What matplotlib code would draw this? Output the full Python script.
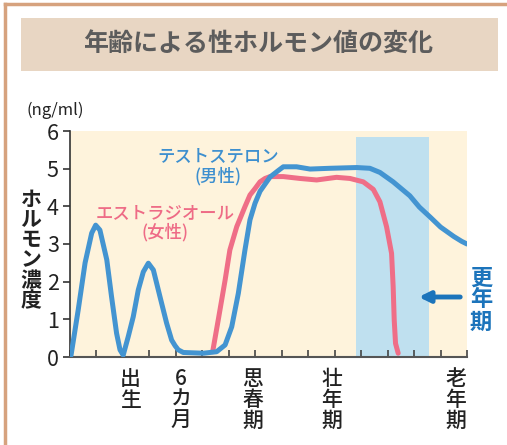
import numpy as np
import matplotlib
matplotlib.use("Agg")
import matplotlib.pyplot as plt
from matplotlib.patches import Rectangle, FancyArrowPatch

plt.rcParams['font.family'] = ['Noto Sans CJK JP', 'DejaVu Sans']

# testosterone (male)
t_x = [0.0, 0.04, 0.31, 0.57, 0.82, 0.97, 1.13, 1.39, 1.57, 1.76, 1.89, 2.01,
       2.2, 2.39, 2.58, 2.77, 2.96, 3.15, 3.4, 3.65, 3.84, 3.97, 4.09, 4.28,
       5.04, 5.54, 5.86, 6.11, 6.36, 6.61, 6.8, 6.99, 7.18, 7.56, 7.87, 8.06,
       8.56, 9.07, 9.82, 10.83, 11.33, 11.71, 12.21, 12.84, 13.2, 13.6, 14.0,
       14.5, 14.8, 15.0]
t_y = [0.0, 0.05, 1.25, 2.5, 3.29, 3.5, 3.37, 2.58, 1.6, 0.63, 0.19, 0.05,
       0.54, 1.07, 1.78, 2.26, 2.49, 2.31, 1.6, 0.9, 0.45, 0.3, 0.19, 0.12,
       0.1, 0.14, 0.32, 0.8, 1.69, 2.84, 3.64, 4.08, 4.4, 4.78, 4.95, 5.05,
       5.05, 4.99, 5.01, 5.03, 5.01, 4.9, 4.65, 4.28, 3.98, 3.72, 3.45,
       3.2, 3.07, 3.0]

# estradiol (female)
e_x = [5.39, 5.6, 5.86, 6.04, 6.3, 6.61, 6.8, 6.99, 7.18, 7.37, 7.56, 8.06,
       8.69, 9.32, 10.07, 10.58, 11.08, 11.46, 11.71, 11.96, 12.15, 12.21,
       12.25, 12.3, 12.4]
e_y = [0.14, 0.98, 2.04, 2.84, 3.46, 3.99, 4.3, 4.47, 4.65, 4.74, 4.79, 4.79,
       4.74, 4.7, 4.77, 4.74, 4.65, 4.45, 4.12, 3.46, 2.75, 1.87, 0.98, 0.36,
       0.1]

stage_pos = [2.27, 4.19, 6.9, 9.9, 14.58]
stage_labels = ["出生", "6カ月", "思春期", "壮年期", "老年期"]
meno_span = (10.8, 13.56, 5.84)

W, H = 507, 445
fig = plt.figure(figsize=(W / 100, H / 100), dpi=100)

# frame and title box
fig.add_artist(plt.Line2D([5 / W, 1], [1 - 4 / H, 1 - 4 / H], color='#d6a27e', lw=2.5))
fig.add_artist(plt.Line2D([5 / W, 5 / W], [0, 1 - 4 / H], color='#d6a27e', lw=2.5))
fig.add_artist(Rectangle((21 / W, 1 - 71 / H), 477 / W, 53 / H,
                         facecolor='#e8d6c3', edgecolor='none'))
fig.text(258 / W, 1 - 45 / H, "年齢による性ホルモン値の変化", ha='center', va='center',
         fontsize=18, color='#5c5c5c', fontweight='bold')

ax = fig.add_axes([70 / W, (H - 357) / H, 397 / W, 226 / H])
ax.set_xlim(0, 15)
ax.set_ylim(0, 6)
ax.set_facecolor('none')
ax.add_patch(Rectangle((0, 0), 15, 6, facecolor='#fef3dc', edgecolor='none', zorder=0))
ax.add_patch(Rectangle((meno_span[0], 0), meno_span[1] - meno_span[0], meno_span[2],
                       facecolor='#bfe0ef', edgecolor='none', zorder=1))

ax.plot(t_x, t_y, color='#4394d1', lw=3.6, solid_joinstyle='round',
        solid_capstyle='round', zorder=3)
ax.plot(e_x, e_y, color='#ef6e87', lw=3.6, solid_joinstyle='round',
        solid_capstyle='round', zorder=2)

for s in ['top', 'right']:
    ax.spines[s].set_visible(False)
ax.spines['left'].set_color('#333333')
ax.spines['bottom'].set_color('#555555')
ax.spines['left'].set_linewidth(1.2)
ax.spines['bottom'].set_linewidth(1.5)

ax.set_yticks(range(7))
ax.tick_params(axis='y', direction='out', length=5, width=1.2, color='#333333',
               labelsize=15.5, labelcolor='#222222', pad=3)
ax.set_xticks(range(16))
ax.set_xticklabels([])
ax.tick_params(axis='x', direction='in', length=5, width=1.2, color='#444444')

for p, lab in zip(stage_pos, stage_labels):
    ax.text(p, -0.28, "\n".join(lab), ha='center', va='top', fontsize=15,
            color='#222222', linespacing=0.95, fontweight='medium')

fig.text(31 / W, 1 - 250 / H, "\n".join("ホルモン濃度"), ha='center', va='center',
         fontsize=15, color='#222222', linespacing=0.95, fontweight='bold')
fig.text(27 / W, 1 - 110 / H, "(ng/ml)", ha='left', va='center', fontsize=12,
         color='#222222')

ax.text(5.6, 5.07, "テストステロン\n(男性)", ha='center', va='center', fontsize=12.5,
        color='#3d8fcf', linespacing=1.1, fontweight='medium', zorder=4)
ax.text(3.6, 3.56, "エストラジオール\n(女性)", ha='center', va='center', fontsize=12.5,
        color='#ee6b86', linespacing=1.1, fontweight='medium', zorder=4)

fig.add_artist(FancyArrowPatch((463 / W, 1 - 297 / H), (416 / W, 1 - 297 / H),
                               transform=fig.transFigure, arrowstyle='-|>',
                               mutation_scale=16, lw=3.5, color='#1c74bb'))
fig.text(481 / W, 1 - 300 / H, "更\n年\n期", ha='center', va='center', fontsize=16,
         color='#1c74bb', linespacing=0.95, fontweight='bold')

fig.savefig("out.png", dpi=100)
